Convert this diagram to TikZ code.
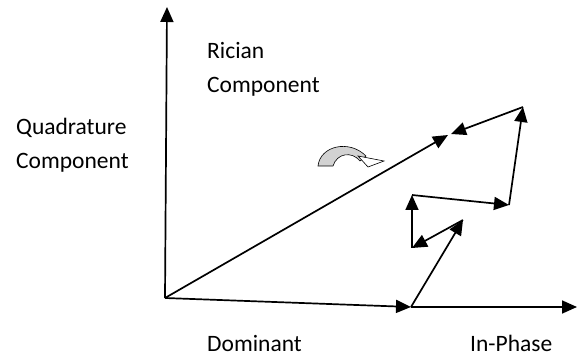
\documentclass[tikz,border=0pt]{standalone}
\usepackage{fontspec}
\setmainfont{Carlito}
\usetikzlibrary{arrows.meta}
\tikzset{
  vec/.style={line width=1.7pt,-{Triangle[length=15pt,width=13pt]}},
  lbl/.style={font=\fontsize{23.5}{34}\selectfont,anchor=base west,inner sep=0pt,align=left}
}
\begin{document}
\begin{tikzpicture}[x=1pt,y=-1pt]
\useasboundingbox (0,0) rectangle (579,358);
% points
\coordinate (O) at (165,298);
\coordinate (Ytop) at (167,7);
\coordinate (D) at (411,307);
\coordinate (Xend) at (577,307);
\coordinate (R) at (448,135);
\coordinate (R2) at (451,134);
\coordinate (P1) at (463,220);
\coordinate (P2) at (412,248);
\coordinate (P3) at (412,195);
\coordinate (P4) at (509,205);
\coordinate (P5) at (523,107);
% axes
\draw[vec] (O) -- (Ytop);
\draw[vec] (D) -- (Xend);
% vectors
\draw[vec] (O) -- (D);
\draw[vec] (O) -- (R);
\draw[vec] (D) -- (P1);
\draw[vec] (P1) -- (P2);
\draw[vec] (P2) -- (P3);
\draw[vec] (P3) -- (P4);
\draw[vec] (P4) -- (P5);
\draw[vec] (P5) -- (R2);
% curved block arrow
\draw[fill=gray!35,line width=0.6pt] (318,166) .. controls (320,146) and (349,139) .. (366,156)
  -- (360,161) .. controls (352,151) and (337,153) .. (333,166) -- cycle;
\draw[fill=white,line width=0.6pt] (358,156) -- (384,161) -- (368,167) -- cycle;
% labels
\node[lbl] (qc) at (16,169) {Quadrature\\Component};
\node[lbl] (rc) at (207,93) {Rician\\Component};
\node[lbl] (dom) at (207,352) {Dominant};
\node[lbl] (ip) at (470,352) {In-Phase};
\end{tikzpicture}
\end{document}
